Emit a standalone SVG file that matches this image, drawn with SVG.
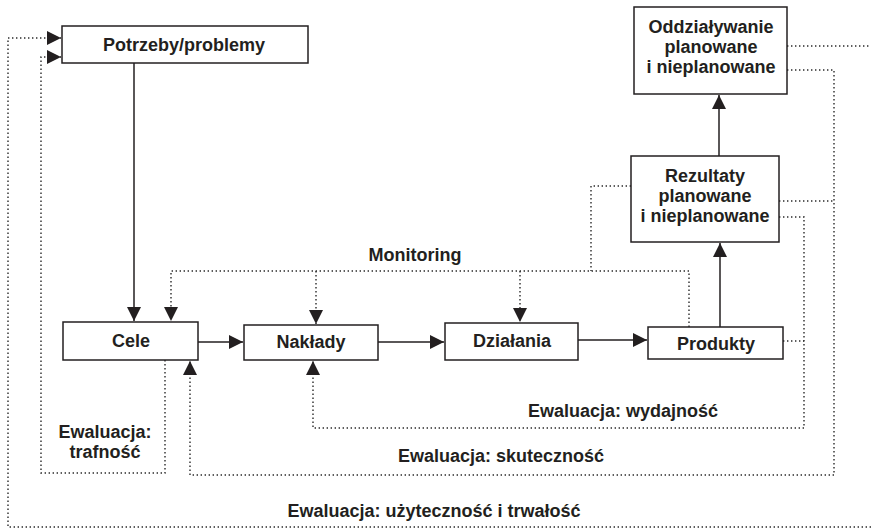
<svg xmlns="http://www.w3.org/2000/svg" width="871" height="530" viewBox="0 0 871 530">
  <style>
    .box { fill: #ffffff; stroke: #231f20; stroke-width: 1.5; }
    .lbl { font-family: "Liberation Sans", Arial, sans-serif; font-weight: bold; font-size: 18px; fill: #231f20; text-anchor: middle; }
    .solid { fill: none; stroke: #231f20; stroke-width: 1.5; }
    .dot { fill: none; stroke: #2a2a2a; stroke-width: 1.4; stroke-dasharray: 1.4 2.6; }
  </style>
  <defs>
    <marker id="arrow" markerUnits="userSpaceOnUse" markerWidth="15" markerHeight="15" refX="14" refY="7" orient="auto">
      <path d="M0,0 L14,7 L0,14 z" fill="#231f20"/>
    </marker>
  </defs>

  <rect width="871" height="530" fill="#ffffff"/>

  <!-- connectors -->
  <g id="connectors">
    <!-- main flow -->
    <path class="solid" d="M134,63 V321" marker-end="url(#arrow)"/>
    <path class="solid" d="M198,342 H243" marker-end="url(#arrow)"/>
    <path class="solid" d="M378,342 H444" marker-end="url(#arrow)"/>
    <path class="solid" d="M578,340 H647" marker-end="url(#arrow)"/>
    <path class="solid" d="M720,327 V243" marker-end="url(#arrow)"/>
    <path class="solid" d="M719,156 V95" marker-end="url(#arrow)"/>

    <!-- monitoring -->
    <path class="dot" d="M631,186 H591 V271"/>
    <path class="dot" d="M689,327 V271 H171 V321" marker-end="url(#arrow)"/>
    <path class="dot" d="M316,271 V324" marker-end="url(#arrow)"/>
    <path class="dot" d="M520,271 V322" marker-end="url(#arrow)"/>

    <!-- evaluation: relevance -->
    <path class="dot" d="M165,360 V473 H41 V57 H61" marker-end="url(#arrow)"/>

    <!-- evaluation: efficiency -->
    <path class="dot" d="M779,217 H804 V428 H313 V361" marker-end="url(#arrow)"/>
    <path class="dot" d="M783,341 H804"/>

    <!-- evaluation: effectiveness -->
    <path class="dot" d="M787,70 H834 V475 H190 V361" marker-end="url(#arrow)"/>
    <path class="dot" d="M779,201 H834"/>

    <!-- evaluation: utility and sustainability -->
    <path class="dot" d="M871,527 H8 V38 H61" marker-end="url(#arrow)"/>
    <path class="dot" d="M787,46 H871"/>
  </g>

  <!-- nodes -->
  <g id="potrzeby">
    <rect class="box" x="62" y="26" width="246" height="37"/>
    <text class="lbl" x="184" y="51">Potrzeby/problemy</text>
  </g>
  <g id="oddzialywanie">
    <rect class="box" x="634" y="7" width="153" height="87"/>
    <text class="lbl" x="711" y="33">Oddziaływanie</text>
    <text class="lbl" x="711" y="53">planowane</text>
    <text class="lbl" x="711" y="73">i nieplanowane</text>
  </g>
  <g id="rezultaty">
    <rect class="box" x="631" y="156" width="148" height="86"/>
    <text class="lbl" x="705" y="182">Rezultaty</text>
    <text class="lbl" x="705" y="202">planowane</text>
    <text class="lbl" x="705" y="222">i nieplanowane</text>
  </g>
  <g id="cele">
    <rect class="box" x="63" y="322" width="135" height="38"/>
    <text class="lbl" x="131" y="347">Cele</text>
  </g>
  <g id="naklady">
    <rect class="box" x="244" y="325" width="134" height="35"/>
    <text class="lbl" x="311" y="348">Nakłady</text>
  </g>
  <g id="dzialania">
    <rect class="box" x="445" y="323" width="133" height="37"/>
    <text class="lbl" x="512" y="347">Działania</text>
  </g>
  <g id="produkty">
    <rect class="box" x="648" y="327" width="135" height="32"/>
    <text class="lbl" x="716" y="350">Produkty</text>
  </g>

  <!-- connector labels -->
  <g id="labels">
    <text class="lbl" x="415" y="261">Monitoring</text>
    <text class="lbl" x="105" y="438">Ewaluacja:</text>
    <text class="lbl" x="105" y="458">trafność</text>
    <text class="lbl" x="623" y="417">Ewaluacja: wydajność</text>
    <text class="lbl" x="501" y="462">Ewaluacja: skuteczność</text>
    <text class="lbl" x="434" y="517">Ewaluacja: użyteczność i trwałość</text>
  </g>
</svg>
